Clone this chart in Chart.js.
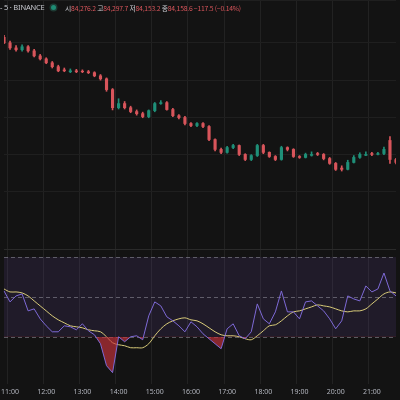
<!DOCTYPE html>
<html><head><meta charset="utf-8">
<script src="https://cdn.jsdelivr.net/npm/chart.js@4/dist/chart.umd.min.js"></script>
<style>
html,body{margin:0;padding:0;background:#131313;}
#wrap{position:relative;width:400px;height:400px;}
.h{position:absolute;top:3px;font-family:"Noto Sans CJK KR",sans-serif;font-size:6.8px;color:#c8cad0;white-space:nowrap;letter-spacing:-0.2px;}
.v{color:#d8555b;}
#dot{position:absolute;left:51px;top:5px;width:5px;height:5px;border-radius:50%;background:#1e8c74;box-shadow:0 0 0 1.5px #1d3a33;}
</style></head>
<body><div id="wrap"><canvas id="c" width="400" height="400"></canvas>
<div class="h" style="left:0;top:2px;font-size:7.5px;font-family:'Noto Sans',sans-serif">- 5 · BINANCE</div>
<div id="dot"></div>
<div class="h" style="left:65px">시<span class="v">84,276.2</span> 고<span class="v">84,297.7</span> 저<span class="v">84,153.2</span> 종<span class="v">84,158.6 −117.5 (−0.14%)</span></div>
</div>
<script>
const times = [];
for (let m = 10*60+50; m <= 21*60+40; m += 10) times.push(String(Math.floor(m/60)).padStart(2,'0')+':'+String(m%60).padStart(2,'0'));
const closes = [84800,84773,84763,84779,84757,84730,84714,84693,84672,84650,84650,84650,84645,84645,84640,84623,84607,84549,84452,84474,84452,84431,84420,84404,84436,84474,84479,84442,84409,84399,84367,84356,84367,84351,84281,84228,84212,84238,84249,84201,84174,84195,84249,84212,84190,84174,84238,84228,84190,84185,84201,84201,84201,84179,84153,84121,84121,84158,84185,84201,84201,84201,84206,84228,84174,84158];
const opens = [84830,84800,84773,84763,84779,84757,84730,84714,84693,84672,84655,84645,84650,84648,84645,84640,84623,84607,84549,84452,84474,84452,84431,84420,84404,84436,84474,84479,84442,84409,84399,84367,84356,84367,84351,84281,84228,84212,84238,84249,84201,84174,84195,84249,84212,84190,84174,84238,84228,84190,84185,84196,84206,84201,84179,84153,84128,84121,84158,84185,84196,84206,84201,84206,84276,84174];
const highs = [84840,84810,84785,84790,84785,84765,84738,84720,84700,84680,84665,84660,84658,84655,84652,84645,84630,84612,84555,84500,84485,84460,84440,84428,84440,84480,84490,84485,84448,84415,84405,84372,84372,84372,84356,84285,84235,84245,84255,84252,84205,84200,84255,84255,84215,84195,84245,84242,84232,84195,84208,84215,84212,84206,84185,84158,84140,84170,84195,84210,84215,84212,84212,84240,84297,84180];
const lows = [84795,84765,84755,84755,84750,84725,84708,84688,84665,84645,84645,84640,84640,84640,84635,84618,84600,84540,84440,84445,84445,84425,84412,84398,84398,84430,84470,84438,84404,84392,84360,84350,84350,84345,84275,84220,84205,84208,84232,84195,84168,84168,84190,84205,84185,84168,84170,84220,84185,84180,84182,84192,84195,84172,84148,84115,84112,84118,84155,84180,84195,84195,84198,84200,84153,84150];
const rsi = [53,47.5,50.5,51.5,43,44,39,35.5,32.5,32.5,35.5,35,33.5,36.5,33,31,26.5,15.5,12,30,27.5,30,30.5,28.5,40.5,47.5,45.5,40,38,35.5,32.5,37.5,35,31.5,29,26.5,24,34,36.5,30.5,29,32.5,46.5,39,36.5,42.5,53,42.5,42.5,39,47.5,48,45.5,43,39,34,38,50.5,49,48,55.5,52.5,54,62,53,50.5];
const rsiMa = [54,52.5,52.5,52,50.5,48,45.5,43,40.5,38.5,37,35.5,35,34.5,33.5,33,32.5,30,27,26,25.5,24.5,24.5,24.5,26.5,30.5,34,36.5,38,39,39.5,38.5,38,36.5,34.5,32.5,31,30.5,30.5,30,29,28.5,30.5,33,35.5,36,38,40.5,42.5,43,44,45,46,45.5,45,44,43,42.5,43,43,44,46.5,49,51.5,52.5,52];

const UP='#1f8f78', DN='#d8555b';
const cols = closes.map((c,i)=> c>=opens[i]?UP:DN);
const bodies = closes.map((c,i)=> Math.abs(c-opens[i])<3 ? [opens[i]-2, opens[i]+2] : [opens[i], c]);
const wicks = highs.map((h,i)=>[lows[i],h]);

const band = {
  id:'band',
  beforeDatasetsDraw(ch){
    const {ctx, chartArea:a} = ch, y=ch.scales.yr;
    ctx.save();
    ctx.fillStyle='rgba(126,87,194,0.13)';
    const t=y.getPixelForValue(70), b=y.getPixelForValue(30);
    ctx.fillRect(a.left,t,a.right-a.left,b-t);
    ctx.strokeStyle='rgba(150,150,160,0.55)'; ctx.setLineDash([4,3]); ctx.lineWidth=1;
    [70,50,30].forEach(v=>{const p=Math.round(y.getPixelForValue(v))+0.5;ctx.beginPath();ctx.moveTo(a.left,p);ctx.lineTo(a.right,p);ctx.stroke();});
    ctx.setLineDash([]); ctx.strokeStyle='#2a2a2a';
    const sep=Math.round(ch.scales.y.bottom)+0.5; ctx.beginPath();ctx.moveTo(a.left,sep);ctx.lineTo(a.right,sep);ctx.stroke();
    ctx.restore();
  }
};
const zeroW = s=>{s.width=0;};

new Chart(document.getElementById('c'),{
  data:{labels:times,datasets:[
    {type:'bar',data:wicks,backgroundColor:cols,barThickness:1,grouped:false,yAxisID:'y',order:2},
    {type:'bar',data:bodies,backgroundColor:cols,barThickness:2.5,grouped:false,yAxisID:'y',order:1},
    {type:'line',data:rsi,borderColor:'#7e6ad6',borderWidth:1,pointRadius:0,tension:0,yAxisID:'yr',
      fill:{target:{value:30},above:'rgba(0,0,0,0)',below:'rgba(200,50,60,0.65)'}},
    {type:'line',data:rsiMa,borderColor:'#d9cc7a',borderWidth:1,pointRadius:0,tension:0.3,yAxisID:'yr',fill:false}
  ]},
  options:{
    responsive:false,animation:false,
    layout:{padding:0},
    plugins:{legend:{display:false},tooltip:{enabled:false}},
    scales:{
      x:{offset:false,grid:{color:ctx=>{const l=times[ctx.index]||'';return l.endsWith(':00')?'#222':'rgba(0,0,0,0)';},drawTicks:false},
        border:{display:false},
        ticks:{autoSkip:false,maxRotation:0,color:'#b2b5be',font:{size:7,family:'Noto Sans'},padding:4,
          callback:(v,i)=>times[i].endsWith(':00')?times[i]:''}},
      yr:{stack:'p',stackWeight:135,min:6.5,max:74,position:'left',afterFit:zeroW,
        ticks:{display:false},grid:{display:false},border:{display:false}},
      y:{stack:'p',stackWeight:250,min:83693,max:85030,position:'left',afterFit:zeroW,
        ticks:{display:false},grid:{color:'#1f1f1f',drawTicks:false},border:{display:false}}
    }
  },
  plugins:[band]
});
</script></body></html>
